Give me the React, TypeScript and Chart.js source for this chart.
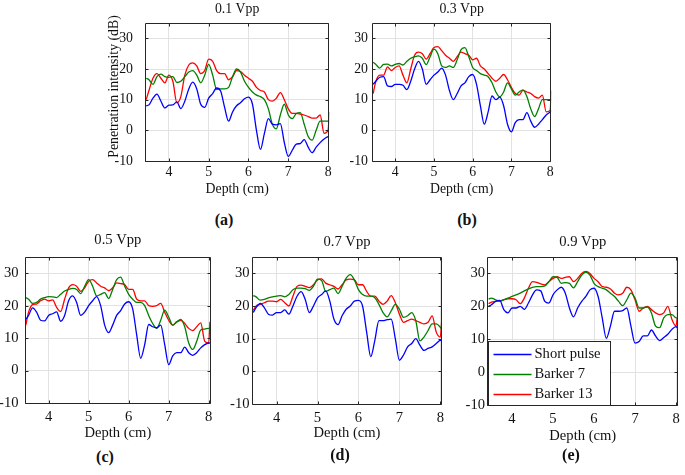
import React, { useEffect, useRef } from "react";
import { Chart, registerables } from "chart.js";

Chart.register(...registerables);

const FONT = "'Liberation Serif', 'Times New Roman', serif";

// ---------- data ----------
const depthCm = [3.43, 3.5, 3.6, 3.7, 3.8, 3.9, 4.0, 4.1, 4.2, 4.3, 4.4, 4.5, 4.6, 4.7, 4.8, 4.9, 5.0, 5.1, 5.2, 5.3, 5.4, 5.5, 5.6, 5.7, 5.8, 5.9, 6.0, 6.1, 6.2, 6.3, 6.4, 6.5, 6.6, 6.7, 6.8, 6.9, 7.0, 7.1, 7.2, 7.3, 7.4, 7.5, 7.6, 7.7, 7.8, 7.9, 8.0, 8.03];
const xTickValues = [4, 5, 6, 7, 8];
const yTickValues = [-10, 0, 10, 20, 30];
const seriesNames = ["Short pulse", "Barker 7", "Barker 13"];
const seriesColors = ["#0000ff", "#008000", "#ff0000"];
const panelTitles = ["0.1 Vpp", "0.3 Vpp", "0.5 Vpp", "0.7 Vpp", "0.9 Vpp"];
const panelTags = ["(a)", "(b)", "(c)", "(d)", "(e)"];
const xAxisLabel = "Depth (cm)";
const yAxisLabel = "Penetration intensity (dB)";

// 0.1 Vpp
const shortA = [8, 8.3, 10.5, 11.8, 9.5, 7.3, 8.2, 8.3, 9.3, 7.1, 9.5, 13.5, 15.7, 13.5, 8.5, 7.5, 10.5, 12, 13.8, 12.8, 7.5, 3, 6, 8, 9, 10.3, 10.8, 8.5, 0, -6.2, -1, 3.8, 2, 1.8, 2.2, -4, -8.5, -6.5, -4.5, -4.3, -3, -5.5, -7.3, -5.5, -4, -2.8, -2, -1.8];
const barker7A = [17, 16.5, 15, 17.5, 18.3, 17.5, 17.3, 17.5, 15.6, 16, 17.5, 19, 19.5, 18, 15.5, 18, 21.5, 18, 13.3, 13.5, 13.5, 14, 17.5, 20, 19, 16, 14, 12.5, 11.5, 11, 10, 7, 2, 0.5, 5, 8.5, 5, 3.8, 5.5, 5.8, 2, -2, -3.2, 0, 3, 3, 3, 3];
const barker13A = [10, 13, 17, 18.5, 17, 15.5, 18, 16, 9, 11, 18, 21.3, 22, 21, 18.5, 19.5, 23.2, 22.5, 19.5, 18.5, 18.5, 16.5, 17.5, 19.5, 19.2, 18, 17, 16, 14, 13, 12.5, 10, 9.5, 10.5, 12.3, 10, 7, 5.5, 5.5, 5.3, 5, 4.5, 4, 4, 5, -1, 0, 6];

// 0.3 Vpp
const shortB = [15, 16, 17.3, 17.5, 14.5, 14.3, 15, 15, 14.7, 13.3, 16, 20, 22.5, 20, 15, 16.5, 18, 19, 20.3, 18, 13, 10, 12, 14.5, 15.5, 17.5, 18.2, 15, 8, 2, 6, 11.2, 10, 10.8, 8, 2, -0.5, 2.5, 3.5, 3.5, 5.8, 3, 1, 2, 3.5, 5, 6, 6.5];
const barker7B = [22.2, 21.5, 20.3, 21.5, 21.6, 21, 21.5, 21.8, 21.3, 22.5, 23.5, 24, 24.3, 23.5, 21.4, 24, 26.5, 25, 21, 20.5, 21, 20.5, 23, 26.3, 27, 24, 20.5, 19.5, 18.5, 18, 17.5, 15.5, 12.5, 10.9, 12.5, 15.5, 13.5, 11.5, 12.5, 13.2, 11, 7, 4.5, 7, 10, 10, 10, 10];
const barker13B = [12, 16, 18, 18, 20.7, 19.5, 20.5, 21, 18, 15.5, 20, 24.5, 25.5, 25, 23.2, 25, 27, 27.3, 26, 24.5, 23.5, 22.5, 24, 25.5, 25, 24.5, 23, 23.5, 21, 20, 18.5, 17, 16, 17, 18.2, 16.5, 14, 12, 11.5, 13, 12.5, 12, 11, 10.5, 11.5, 6, 6.5, 13];

// 0.5 Vpp
const shortC = [15.8, 17, 19.3, 18, 15.5, 15.3, 17, 17.5, 18.1, 15.2, 17, 21.5, 23, 21, 17, 18, 20, 21.5, 22.8, 20, 14, 11.7, 14, 17, 18.5, 20.5, 21.2, 19, 11, 3.8, 8, 14.2, 13.5, 13.2, 14, 8, 1.8, 4.5, 5.5, 5.5, 7.2, 5.5, 4.7, 5.5, 7, 8, 8.5, 8.5];
const barker7C = [22.5, 22, 20.7, 21, 22, 22.5, 22.8, 22.7, 22.5, 23.5, 24.5, 25, 25.3, 25, 23.7, 26, 28, 26, 23, 23.5, 24, 22.2, 25, 28, 28.8, 26, 23.5, 22, 21, 21, 20, 17, 14.5, 13, 15.5, 18.6, 16.5, 14, 15, 15.8, 13.5, 8.5, 6.5, 9, 12.5, 12.8, 13, 13];
const barker13C = [14, 18, 20.3, 20.5, 21.5, 22, 21.5, 21.8, 19.5, 18.2, 22, 25.5, 26.5, 26, 24.4, 25.5, 27.5, 28, 27, 26, 25.5, 24.6, 25.5, 27, 26.8, 26.5, 25, 25, 22, 21.5, 21.5, 20, 19.8, 20, 20.7, 18, 15.5, 14, 15, 15.5, 14.5, 13, 12.3, 13.5, 14.7, 9, 8.5, 15];

// 0.7 Vpp
const shortD = [18, 19.5, 20.8, 19.5, 17.5, 17.2, 18, 18, 18.8, 17.5, 20, 23, 24.4, 22, 18, 20, 22.5, 23.5, 24.6, 21.5, 16, 14.3, 17, 19, 20, 21.5, 21.7, 20, 12, 4.5, 9.5, 15.5, 15.5, 15.8, 16, 10, 3.4, 5, 7.5, 8.5, 10, 8, 6.4, 7, 7.5, 8.5, 9.5, 9.5];
const barker7D = [23.2, 22.8, 21.8, 22, 22.5, 22.8, 23, 23.2, 22.8, 23.5, 25, 25.5, 25.5, 25.3, 24.8, 26, 28.2, 27.8, 24.5, 25, 25.5, 23.8, 26, 28.5, 29.6, 28, 25, 23.5, 23, 23, 22.5, 20.5, 18, 16.7, 18.5, 20.5, 19, 16.5, 17, 18, 15.5, 9.3, 10.5, 12.5, 14.5, 14.5, 13.5, 13];
const barker13D = [18.7, 20, 20.5, 21, 21.5, 21.5, 21.3, 22, 21, 20, 23, 26, 26.4, 26, 25.6, 26.5, 28, 28.3, 27, 26.5, 26, 25.2, 26.5, 28, 28.2, 28, 26.5, 26.5, 24.5, 23, 23, 21.5, 20.5, 21.5, 23.2, 21, 17.5, 15, 15.5, 16, 15.5, 15, 14.5, 15, 17, 12, 10.5, 15];

// 0.9 Vpp
const shortE = [20, 20.5, 21.5, 21.8, 19, 18, 19.5, 19.5, 20, 19.1, 21, 23.5, 25, 24.7, 21.5, 21, 23.5, 25, 25.8, 24, 19.5, 16.8, 19.5, 21.5, 23, 25, 25.5, 23, 16.5, 10.3, 14, 18.5, 18.5, 18.7, 19.5, 14, 8.8, 9.3, 11, 11, 12.8, 11, 9.6, 10.5, 11.5, 13, 13.8, 13.5];
const barker7E = [22.2, 22.5, 22, 21.5, 22, 22.5, 23, 23.5, 24, 24.7, 25.3, 25.8, 26, 26, 26.2, 27.5, 29, 28.8, 27, 27.2, 27, 25.6, 27.5, 29.5, 30.4, 29.5, 27, 26, 25.5, 25, 24, 23, 21.5, 20.2, 22, 24, 22.5, 19.5, 19.5, 19.8, 18, 14, 13.5, 16.5, 17.5, 17.5, 16.5, 16.5];
const barker13E = [20.8, 21.3, 21.5, 21.7, 22, 22.3, 22.3, 22, 20.8, 22.5, 25.5, 27.5, 27.3, 26.8, 26.5, 27.5, 28.5, 29, 28.5, 28.8, 29, 27.5, 28.5, 30, 30.6, 30, 28.5, 27.5, 26, 25.8, 25.3, 24, 23.5, 24, 25.8, 25, 22, 18.5, 19.5, 20, 19, 18, 17.5, 18, 20, 16, 14, 16.5];

const panelSeries = [
  [shortA, barker7A, barker13A],
  [shortB, barker7B, barker13B],
  [shortC, barker7C, barker13C],
  [shortD, barker7D, barker13D],
  [shortE, barker7E, barker13E],
];

// ---------- layout ----------
type Layout = {
  L: number; T: number; R: number; B: number;
  xMin: number; xMax: number; fs: number;
  yw: number; th: number; rp: number;
  titleY: number; yTickPad: number; xTickY: number; xLabelY: number;
  yLabelX?: number; yLabelY?: number; tagX: number; tagY: number; legend?: boolean;
};

const layouts: Layout[] = [
  { L: 145, T: 23, R: 331, B: 161, xMin: 3.4, xMax: 8.03, fs: 13.8, yw: 40, th: 23, rp: 4, titleY: 9.3, yTickPad: 12, xTickY: 172.7, xLabelY: 189, yLabelX: 114.5, yLabelY: 86.5, tagX: 224, tagY: 219.5 },
  { L: 372, T: 23, R: 553, B: 161, xMin: 3.4, xMax: 8.03, fs: 13.8, yw: 30, th: 23, rp: 4, titleY: 9.3, yTickPad: 4, xTickY: 172.7, xLabelY: 189, tagX: 467, tagY: 219.5 },
  { L: 25, T: 257, R: 214, B: 403, xMin: 3.41, xMax: 8.05, fs: 14.6, yw: 25, th: 30, rp: 4, titleY: 240, yTickPad: 6.5, xTickY: 417.3, xLabelY: 433, tagX: 105, tagY: 457 },
  { L: 252, T: 257, R: 445, B: 404, xMin: 3.4, xMax: 8.04, fs: 14.6, yw: 30, th: 30, rp: 4, titleY: 242, yTickPad: 2.5, xTickY: 417.7, xLabelY: 433, tagX: 340, tagY: 455 },
  { L: 487, T: 257, R: 683, B: 405, xMin: 3.39, xMax: 8.06, fs: 14.6, yw: 30, th: 30, rp: 2, titleY: 241.7, yTickPad: 2, xTickY: 419, xLabelY: 435.7, tagX: 571, tagY: 454.5, legend: true },
];

const XH = 44;
const GRID = "#e2e2e2";
const FRAME = "#262626";
const TEXT = "#111111";
const LINE_W = 1.3;

const framePlugin = {
  id: "matlabFrame",
  afterDatasetsDraw(chart: any) {
    const { ctx, chartArea: a } = chart;
    const xs = chart.scales.x;
    const ys = chart.scales.y;
    const l = Math.round(a.left) + 0.5;
    const r = Math.round(a.right) - 0.5;
    const t = Math.round(a.top) + 0.5;
    const b = Math.round(a.bottom) + 0.5;
    ctx.save();
    ctx.strokeStyle = FRAME;
    ctx.lineWidth = 1;
    ctx.beginPath();
    ctx.rect(l, t, r - l, b - t);
    xTickValues.forEach((v) => {
      const p = Math.round(xs.getPixelForValue(v)) + 0.5;
      ctx.moveTo(p, b); ctx.lineTo(p, b - 3);
      ctx.moveTo(p, t); ctx.lineTo(p, t + 3);
    });
    yTickValues.forEach((v) => {
      const p = Math.round(ys.getPixelForValue(v)) + 0.5;
      ctx.moveTo(l, p); ctx.lineTo(l + 3, p);
      ctx.moveTo(r, p); ctx.lineTo(r - 3, p);
    });
    ctx.stroke();
    ctx.restore();
  },
};

function makeYLabelPlugin(text: string, cx: number, cy: number, fs: number) {
  return {
    id: "yLabelText",
    afterDraw(chart: any) {
      const { ctx } = chart;
      ctx.save();
      ctx.translate(cx, cy);
      ctx.rotate(-Math.PI / 2);
      ctx.fillStyle = TEXT;
      ctx.font = `${fs}px ${FONT}`;
      ctx.textAlign = "center";
      ctx.textBaseline = "middle";
      ctx.fillText(text, 0, 0);
      ctx.restore();
    },
  };
}

function makeLegendPlugin(fs: number) {
  return {
    id: "insideLegend",
    afterDraw(chart: any) {
      const { ctx, chartArea: a } = chart;
      const bw = 122;
      const bh = 64;
      const bx = Math.round(a.left) + 1.5;
      const by = Math.round(a.bottom) + 0.5 - bh;
      ctx.save();
      ctx.fillStyle = "#ffffff";
      ctx.fillRect(bx, by, bw, bh);
      ctx.strokeStyle = FRAME;
      ctx.lineWidth = 1;
      ctx.strokeRect(bx, by, bw, bh);
      chart.data.datasets.forEach((ds: any, i: number) => {
        const y = Math.round(by + 12 + i * 20) + 0.5;
        ctx.strokeStyle = ds.borderColor;
        ctx.lineWidth = LINE_W;
        ctx.beginPath();
        ctx.moveTo(bx + 5, y);
        ctx.lineTo(bx + 43, y);
        ctx.stroke();
        ctx.fillStyle = TEXT;
        ctx.font = `${fs}px ${FONT}`;
        ctx.textBaseline = "middle";
        ctx.textAlign = "left";
        ctx.fillText(ds.label, bx + 46, y);
      });
      ctx.restore();
    },
  };
}

function Panel({ idx }: { idx: number }) {
  const ref = useRef<HTMLCanvasElement | null>(null);
  const lay = layouts[idx];
  const W = lay.yw + (lay.R - lay.L) + lay.rp;
  const H = lay.th + (lay.B - lay.T) + XH;
  const left = lay.L - lay.yw;
  const top = lay.T - lay.th;

  useEffect(() => {
    if (!ref.current) return;
    const lh = lay.fs * 1.2;
    const font = { family: FONT, size: lay.fs, weight: "normal" as const, lineHeight: 1.2 };
    const titlePadTop = lay.titleY - top - lh / 2;
    const titlePadBottom = lay.th - lh - titlePadTop;
    const series = panelSeries[idx];
    const plugins: any[] = [framePlugin];
    if (lay.yLabelX !== undefined && lay.yLabelY !== undefined) {
      plugins.push(makeYLabelPlugin(yAxisLabel, lay.yLabelX - left, lay.yLabelY - top, lay.fs));
    }
    if (lay.legend) plugins.push(makeLegendPlugin(lay.fs));

    const chart = new Chart(ref.current, {
      type: "line",
      data: {
        datasets: series.map((vals, i) => ({
          label: seriesNames[i],
          data: depthCm.map((x, k) => ({ x, y: vals[k] })),
          borderColor: seriesColors[i],
          backgroundColor: seriesColors[i],
          borderWidth: LINE_W,
          pointRadius: 0,
          pointHoverRadius: 0,
          cubicInterpolationMode: "monotone" as const,
          fill: false,
        })),
      },
      options: {
        responsive: false,
        animation: false,
        devicePixelRatio: 1,
        events: [],
        layout: { padding: { left: 0, right: lay.rp, top: 0, bottom: 0 } },
        plugins: {
          legend: { display: false },
          tooltip: { enabled: false },
          title: {
            display: true,
            text: panelTitles[idx],
            fullSize: false,
            color: TEXT,
            font,
            padding: { top: titlePadTop, bottom: titlePadBottom },
          },
        },
        scales: {
          x: {
            type: "linear",
            min: lay.xMin,
            max: lay.xMax,
            afterBuildTicks: (s: any) => {
              s.ticks = xTickValues.map((v) => ({ value: v }));
            },
            afterFit: (s: any) => {
              s.height = XH;
            },
            grid: { color: GRID, drawTicks: false, lineWidth: 1 },
            border: { display: false },
            ticks: {
              padding: lay.xTickY - lay.B - lh / 2,
              font,
              color: TEXT,
              maxRotation: 0,
              autoSkip: false,
            },
            title: {
              display: true,
              text: xAxisLabel,
              color: TEXT,
              font,
              padding: { top: 0, bottom: XH - (lay.xLabelY - lay.B) - lh / 2 },
            },
          },
          y: {
            type: "linear",
            min: -10,
            max: 35,
            afterBuildTicks: (s: any) => {
              s.ticks = yTickValues.map((v) => ({ value: v }));
            },
            afterFit: (s: any) => {
              s.width = lay.yw;
            },
            grid: { color: GRID, drawTicks: false, lineWidth: 1 },
            border: { display: false },
            ticks: { padding: lay.yTickPad, font, color: TEXT, autoSkip: false },
            title: { display: false },
          },
        },
      } as any,
      plugins,
    });
    return () => chart.destroy();
  }, []);

  return (
    <>
      <canvas
        ref={ref}
        width={W}
        height={H}
        style={{ position: "absolute", left, top, width: W, height: H }}
      />
      <div
        style={{
          position: "absolute",
          left: lay.tagX,
          top: lay.tagY,
          transform: "translate(-50%, -50%)",
          fontFamily: FONT,
          fontWeight: "bold",
          fontSize: 16,
          lineHeight: 1,
          color: TEXT,
          whiteSpace: "nowrap",
        }}
      >
        {panelTags[idx]}
      </div>
    </>
  );
}

export default function App() {
  return (
    <div
      style={{
        position: "absolute",
        left: 0,
        top: 0,
        width: 685,
        height: 475,
        overflow: "hidden",
        background: "#ffffff",
      }}
    >
      {layouts.map((_, i) => (
        <Panel key={i} idx={i} />
      ))}
    </div>
  );
}
